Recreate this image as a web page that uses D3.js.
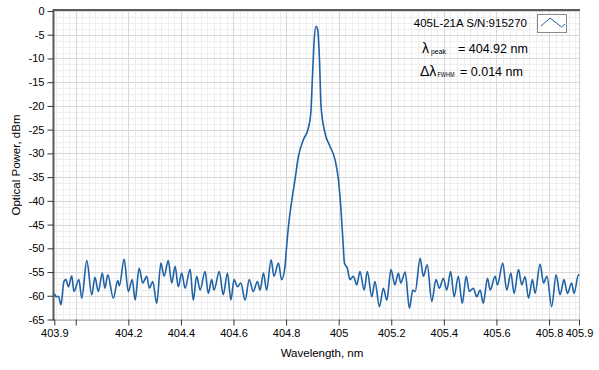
<!DOCTYPE html>
<html><head><meta charset="utf-8">
<script src="https://cdn.jsdelivr.net/npm/d3@7/dist/d3.min.js"></script>
<style>
body{margin:0;background:#fff;}
text{font-family:"Liberation Sans",Arial,sans-serif;fill:#000;}
</style>
</head><body>
<svg id="chart" width="599" height="370"></svg>
<script>
// ---- data ----
const wavelength = [
403.919,403.925,403.934,403.944,403.955,403.963,403.972,403.985,403.993,404.012,
404.023,404.042,404.061,404.073,404.086,404.101,404.111,404.122,404.143,404.160,
404.166,404.184,404.200,404.215,404.226,404.241,404.255,404.270,404.280,404.293,
404.308,404.324,404.336,404.352,404.365,404.378,404.390,404.403,404.416,404.435,
404.447,404.460,404.473,404.492,404.504,404.517,404.526,404.546,404.561,404.577,
404.590,404.602,404.615,404.628,404.644,404.660,404.675,404.691,404.701,404.714,
404.726,404.743,404.754,404.771,404.783,404.796,404.800,404.809,404.822,404.834,
404.847,404.866,404.885,404.894,404.901,404.907,404.914,404.920,404.927,404.933,
404.948,404.967,404.986,404.999,405.008,405.016,405.022,405.033,405.043,405.056,
405.069,405.081,405.097,405.109,405.126,405.138,405.155,405.170,405.183,405.199,
405.214,405.227,405.236,405.253,405.269,405.282,405.291,405.310,405.322,405.337,
405.354,405.370,405.383,405.398,405.411,405.426,405.439,405.455,405.470,405.485,
405.497,405.512,405.525,405.538,405.550,405.566,405.576,405.595,405.604,405.624,
405.639,405.655,405.667,405.684,405.696,405.709,405.722,405.737,405.747,405.766,
405.779,405.792,405.810,405.827,405.842,405.857,405.870,405.886,405.895,405.912,
405.914];
const power = [
-59.5,-60.2,-60.1,-61.9,-57.0,-56.6,-58.1,-55.8,-59.1,-56.6,
-60.5,-52.6,-59.8,-56.1,-59.1,-55.2,-58.4,-55.6,-60.5,-56.8,
-57.9,-52.3,-59.1,-56.6,-60.9,-54.2,-57.3,-55.9,-58.4,-57.0,
-61.6,-53.1,-55.9,-52.6,-57.3,-53.8,-58.1,-55.2,-58.4,-54.4,
-60.9,-55.9,-58.8,-54.9,-59.5,-56.6,-58.8,-54.9,-59.8,-55.2,
-60.9,-56.6,-58.1,-57.3,-60.9,-56.6,-59.1,-57.0,-58.8,-55.2,
-58.8,-52.4,-55.9,-53.1,-56.6,-53.8,-51.0,-45.4,-39.8,-35.5,
-30.6,-27.1,-24.6,-21.5,-13.0,-6.0,-3.2,-3.9,-10.2,-20.1,
-25.7,-28.5,-31.3,-35.5,-41.2,-48.2,-53.1,-54.2,-56.6,-55.9,
-57.7,-54.9,-58.8,-54.9,-60.2,-57.0,-62.3,-58.4,-60.9,-54.5,
-57.7,-55.2,-57.3,-55.0,-62.6,-58.8,-59.1,-52.1,-55.9,-53.5,
-61.2,-56.6,-58.4,-56.3,-58.8,-54.9,-60.2,-55.9,-61.6,-55.9,
-59.1,-58.4,-60.2,-58.8,-61.6,-56.3,-58.8,-55.9,-57.7,-53.1,
-58.8,-55.2,-59.5,-54.5,-57.7,-56.0,-60.5,-56.6,-59.5,-53.3,
-57.3,-55.9,-62.3,-55.6,-59.8,-56.6,-59.5,-57.3,-59.5,-55.6,
-55.8];

const xDomain = [403.9185, 405.914];
const xTickValues = [404.0,404.2,404.4,404.6,404.8,405.0,405.2,405.4,405.6,405.8];
const xTickLabels = ["","404.2","404.4","404.6","404.8","405","405.2","405.4","405.6","405.8"];
const xEdgeLabels = ["403.9","405.9"];
const yTickValues = [0,-5,-10,-15,-20,-25,-30,-35,-40,-45,-50,-55,-60,-65];
const yTickLabels = ["0","-5","-10","-15","-20","-25","-30","-35","-40","-45","-50","-55","-60","-65"];
const seriesName = "405L-21A S/N:915270";
const peakText = "= 404.92 nm";
const fwhmText = "= 0.014 nm";

// ---- layout ----
const L = 53.5, R = 579, T = 11, B = 319.5;
const svg = d3.select("#chart");
const x = d3.scaleLinear().domain(xDomain).range([54.3, R]);
const y = d3.scaleLinear().domain([-65, 0]).range([B, T]);

// grid
const g = svg.append("g");
const xMinor = d3.range(403.925, 405.914, 0.025);
const yMinor = d3.range(-65, 0.01, 1.25);
g.selectAll(".xm").data(xMinor).enter().append("line")
  .attr("x1", d => Math.round(x(d)) + 0.5).attr("x2", d => Math.round(x(d)) + 0.5)
  .attr("y1", T).attr("y2", B).attr("stroke", "#eeeeee").attr("stroke-width", 1);
g.selectAll(".ym").data(yMinor).enter().append("line")
  .attr("y1", d => Math.round(y(d)) + 0.5).attr("y2", d => Math.round(y(d)) + 0.5)
  .attr("x1", L).attr("x2", R).attr("stroke", "#eeeeee").attr("stroke-width", 1);
g.selectAll(".xM").data(xTickValues).enter().append("line")
  .attr("x1", d => Math.round(x(d)) + 0.5).attr("x2", d => Math.round(x(d)) + 0.5)
  .attr("y1", T).attr("y2", B).attr("stroke", "#d8d8d8").attr("stroke-width", 1);
g.selectAll(".yM").data(yTickValues).enter().append("line")
  .attr("y1", d => Math.round(y(d)) + 0.5).attr("y2", d => Math.round(y(d)) + 0.5)
  .attr("x1", L).attr("x2", R).attr("stroke", "#d8d8d8").attr("stroke-width", 1);

// frame
svg.append("line").attr("x1", R + 0.5).attr("x2", R + 0.5).attr("y1", T).attr("y2", B).attr("stroke", "#d0d0d0");
svg.append("line").attr("x1", L).attr("x2", R).attr("y1", B + 0.5).attr("y2", B + 0.5).attr("stroke", "#a0a0a0");
svg.append("line").attr("x1", L).attr("x2", R + 1).attr("y1", 10).attr("y2", 10).attr("stroke", "#5a5a5a").attr("stroke-width", 2);

// y axis
const yAxis = d3.axisLeft(y).tickValues(yTickValues).tickSize(6).tickPadding(3)
  .tickFormat((d, i) => yTickLabels[i]);
const ya = svg.append("g").attr("transform", `translate(${L},0)`).call(yAxis);
ya.select(".domain").attr("stroke", "#5a5a5a").attr("stroke-width", 2).attr("d", `M0,9V${B+1}`);
ya.selectAll(".tick line").attr("stroke", "#333");
ya.selectAll("text").style("font-family", "Liberation Sans, Arial").style("font-size", "11px").attr("fill", "#000");

// x axis
const xAll = [xDomain[0]].concat(xTickValues, [xDomain[1]]);
const xLabAll = [xEdgeLabels[0]].concat(xTickLabels, [xEdgeLabels[1]]);
const xAxis = d3.axisBottom(x).tickValues(xAll).tickSize(6).tickPadding(4)
  .tickFormat((d, i) => xLabAll[i]);
const xa = svg.append("g").attr("transform", `translate(0,${B})`).call(xAxis);
xa.select(".domain").remove();
xa.selectAll(".tick line").attr("stroke", "#333");
xa.selectAll("text").style("font-family", "Liberation Sans, Arial").style("font-size", "11px").attr("fill", "#000");

// axis titles
svg.append("text").attr("x", 322).attr("y", 357).attr("text-anchor", "middle")
  .style("font-size", "11.5px").text("Wavelength, nm");
svg.append("text").attr("transform", "translate(20,165) rotate(-90)").attr("text-anchor", "middle")
  .style("font-size", "11.5px").text("Optical Power, dBm");

// trace
const data = wavelength.map((w, i) => [w, power[i]]);
svg.append("path").datum(data)
  .attr("fill", "none").attr("stroke", "#1f62a5").attr("stroke-width", 1.6)
  .attr("stroke-linejoin", "round")
  .attr("d", d3.line().x(d => x(d[0])).y(d => y(d[1])).curve(d3.curveMonotoneX));

// legend
svg.append("text").attr("x", 527).attr("y", 27).attr("text-anchor", "end")
  .style("font-size", "11.5px").text(seriesName);
svg.append("rect").attr("x", 537.5).attr("y", 14.5).attr("width", 29).attr("height", 18)
  .attr("fill", "#fff").attr("stroke", "#8a8a8a");
svg.append("path").attr("d", "M541,26 L550,18 L561.5,27 L565,24")
  .attr("fill", "none").attr("stroke", "#1f62a5").attr("stroke-width", 1);

// annotations
function annot(yPos, sym, symX, sub, subX, subW, restX, rest) {
  svg.append("text").attr("x", symX).attr("y", yPos).style("font-size", "14px").text(sym);
  svg.append("text").attr("x", subX).attr("y", yPos + 0.5).style("font-size", "7.5px")
    .attr("textLength", subW).attr("lengthAdjust", "spacingAndGlyphs").text(sub);
  svg.append("text").attr("x", restX).attr("y", yPos).style("font-size", "12.5px").text(rest);
}
annot(53, "λ", 422, "peak", 431, 15, 458, peakText);
annot(76, "Δλ", 420, "FWHM", 437.5, 17, 460, fwhmText);
</script>
</body></html>
